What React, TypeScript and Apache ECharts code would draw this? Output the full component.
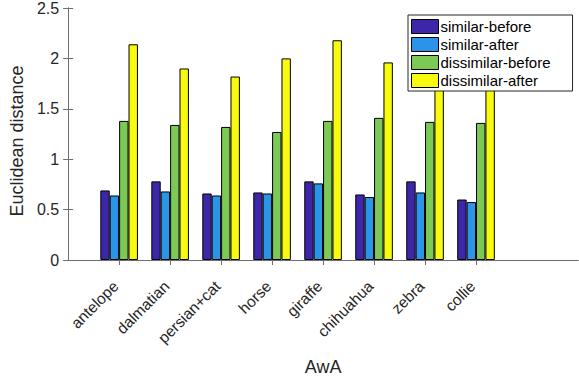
import React, { useEffect, useRef } from "react";
import * as echarts from "echarts";

const categories = ["antelope", "dalmatian", "persian+cat", "horse", "giraffe", "chihuahua", "zebra", "collie"];
const categoryPositions = [1, 2, 3, 4, 5, 6, 7, 8];
const seriesNames = ["similar-before", "similar-after", "dissimilar-before", "dissimilar-after"];
const similarBefore = [0.69, 0.78, 0.66, 0.67, 0.78, 0.65, 0.78, 0.6];
const similarAfter = [0.64, 0.68, 0.64, 0.66, 0.76, 0.625, 0.67, 0.575];
const dissimilarBefore = [1.38, 1.34, 1.32, 1.27, 1.38, 1.41, 1.37, 1.36];
const dissimilarAfter = [2.14, 1.9, 1.82, 2.0, 2.18, 1.96, 1.85, 1.8];
const seriesColors = ["#3e26a8", "#2a94e8", "#7cc956", "#f8fa0f"];
const xMin = 0;
const xMax = 10;
const yMin = 0;
const yMax = 2.5;
const yInterval = 0.5;

const FONT = "'Liberation Sans', Arial, sans-serif";
const TEXT = "#262626";
const AXIS = "#6e6e6e";

export default function App() {
  const ref = useRef<HTMLDivElement>(null);
  useEffect(() => {
    document.body.style.margin = "0";
    const chart = echarts.init(ref.current!, null, { renderer: "svg" });
    const allSeries = [similarBefore, similarAfter, dissimilarBefore, dissimilarAfter];
    const axisLineStyle = { show: true, lineStyle: { color: AXIS, width: 1 } };
    chart.setOption({
      animation: false,
      backgroundColor: "#ffffff",
      textStyle: { fontFamily: FONT },
      grid: { left: 62, right: 1, top: 7, bottom: 122, containLabel: false },
      legend: {
        orient: "vertical",
        left: 408,
        top: 15,
        itemWidth: 27,
        itemHeight: 14,
        itemGap: 3,
        padding: [4, 22, 3, 3],
        backgroundColor: "#ffffff",
        borderColor: "#262626",
        borderWidth: 1,
        borderRadius: 0,
        icon: "rect",
        itemStyle: { borderColor: "#000000", borderWidth: 1 },
        textStyle: { fontFamily: FONT, fontSize: 15, lineHeight: 15, color: "#000000", padding: [0, 0, 0, -3] },
        data: seriesNames,
      },
      xAxis: [
        {
          type: "value",
          min: xMin,
          max: xMax,
          position: "bottom",
          name: "AwA",
          nameLocation: "middle",
          nameGap: 98,
          nameTextStyle: { fontFamily: FONT, fontSize: 18, color: TEXT },
          axisLine: axisLineStyle,
          axisTick: { show: true, inside: true, length: 5, customValues: categoryPositions, lineStyle: { color: AXIS } },
          axisLabel: {
            show: true,
            customValues: categoryPositions,
            rotate: 45,
            margin: 20,
            padding: [0, 5, 0, 0],
            fontFamily: FONT,
            fontSize: 15.5,
            color: TEXT,
            formatter: (v: number) => categories[Math.round(v) - 1] ?? "",
          },
          splitLine: { show: false },
        },
        {
          type: "value",
          min: xMin,
          max: xMax,
          position: "top",
          axisLine: axisLineStyle,
          axisTick: { show: true, inside: true, length: 5, customValues: categoryPositions, lineStyle: { color: AXIS } },
          axisLabel: { show: false },
          splitLine: { show: false },
        },
      ],
      yAxis: [
        {
          type: "value",
          min: yMin,
          max: yMax,
          interval: yInterval,
          position: "left",
          name: "Euclidean distance",
          nameLocation: "middle",
          nameGap: 36,
          nameTextStyle: { fontFamily: FONT, fontSize: 18, color: TEXT, padding: [0, 14, 0, 0] },
          axisLine: axisLineStyle,
          axisTick: { show: true, inside: true, length: 5, lineStyle: { color: AXIS } },
          axisLabel: { fontFamily: FONT, fontSize: 16, color: TEXT, margin: 9 },
          splitLine: { show: false },
        },
        {
          type: "value",
          min: yMin,
          max: yMax,
          interval: yInterval,
          position: "right",
          axisLine: axisLineStyle,
          axisTick: { show: true, inside: true, length: 5, lineStyle: { color: AXIS } },
          axisLabel: { show: false },
          splitLine: { show: false },
        },
      ],
      series: allSeries.map((vals, si) => ({
        name: seriesNames[si],
        type: "bar",
        xAxisIndex: 0,
        yAxisIndex: 0,
        barGap: "0%",
        barWidth: 9.4,
        itemStyle: { color: seriesColors[si], borderColor: "#000000", borderWidth: 1 },
        data: vals.map((v, i) => [categoryPositions[i], v]),
      })),
    });
    return () => chart.dispose();
  }, []);
  return <div ref={ref} style={{ width: 579, height: 382 }} />;
}
